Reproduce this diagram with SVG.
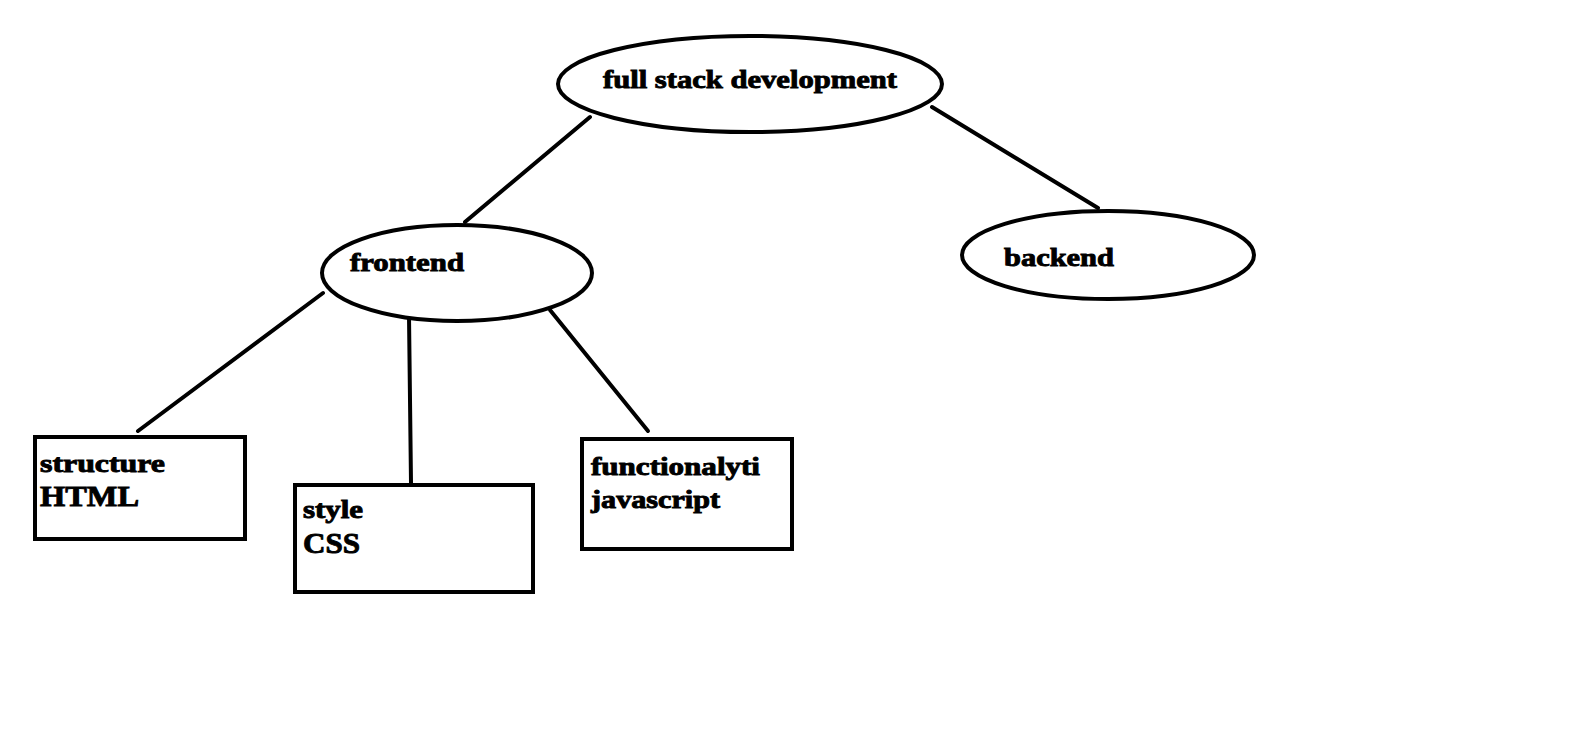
<svg xmlns="http://www.w3.org/2000/svg" width="1594" height="755" viewBox="0 0 1594 755">
<style>
.s{fill:#fff;stroke:#000;stroke-width:4}
.c{stroke:#000;stroke-width:4;fill:none;stroke-linecap:round}
text{font-family:"Liberation Serif","Times New Roman",serif;font-weight:bold;fill:#000;stroke:#000;stroke-width:0.9}
.t{font-size:25px}
.b{font-size:29px}
</style>
<rect width="1594" height="755" fill="#fff"/>
<g id="connectors">
<line class="c" x1="590" y1="117" x2="465" y2="222"/>
<line class="c" x1="932" y1="107" x2="1098" y2="208"/>
<line class="c" x1="323" y1="293" x2="138" y2="431"/>
<line class="c" x1="409" y1="316" x2="411" y2="483"/>
<line class="c" x1="550" y1="310" x2="648" y2="431"/>
</g>
<g id="full-stack">
<ellipse class="s" cx="750" cy="84" rx="192" ry="48"/>
<text class="t" x="603" y="88" textLength="294" lengthAdjust="spacingAndGlyphs">full stack development</text>
</g>
<g id="frontend">
<ellipse class="s" cx="457" cy="273" rx="135" ry="48"/>
<text class="t" x="350" y="271" textLength="114" lengthAdjust="spacingAndGlyphs">frontend</text>
</g>
<g id="backend">
<ellipse class="s" cx="1108" cy="255" rx="146" ry="44"/>
<text class="t" x="1004" y="266" textLength="110" lengthAdjust="spacingAndGlyphs">backend</text>
</g>
<g id="html">
<rect class="s" x="35" y="437" width="210" height="102"/>
<text class="t" x="40" y="472" textLength="125" lengthAdjust="spacingAndGlyphs">structure</text>
<text class="b" x="40" y="506" textLength="99" lengthAdjust="spacingAndGlyphs">HTML</text>
</g>
<g id="css">
<rect class="s" x="295" y="485" width="238" height="107"/>
<text class="t" x="303" y="518" textLength="60" lengthAdjust="spacingAndGlyphs">style</text>
<text class="b" x="303" y="553" textLength="57" lengthAdjust="spacingAndGlyphs">CSS</text>
</g>
<g id="javascript">
<rect class="s" x="582" y="439" width="210" height="110"/>
<text class="t" x="591" y="475" textLength="169" lengthAdjust="spacingAndGlyphs">functionalyti</text>
<text class="t" x="591" y="508" textLength="129" lengthAdjust="spacingAndGlyphs">javascript</text>
</g>
</svg>
